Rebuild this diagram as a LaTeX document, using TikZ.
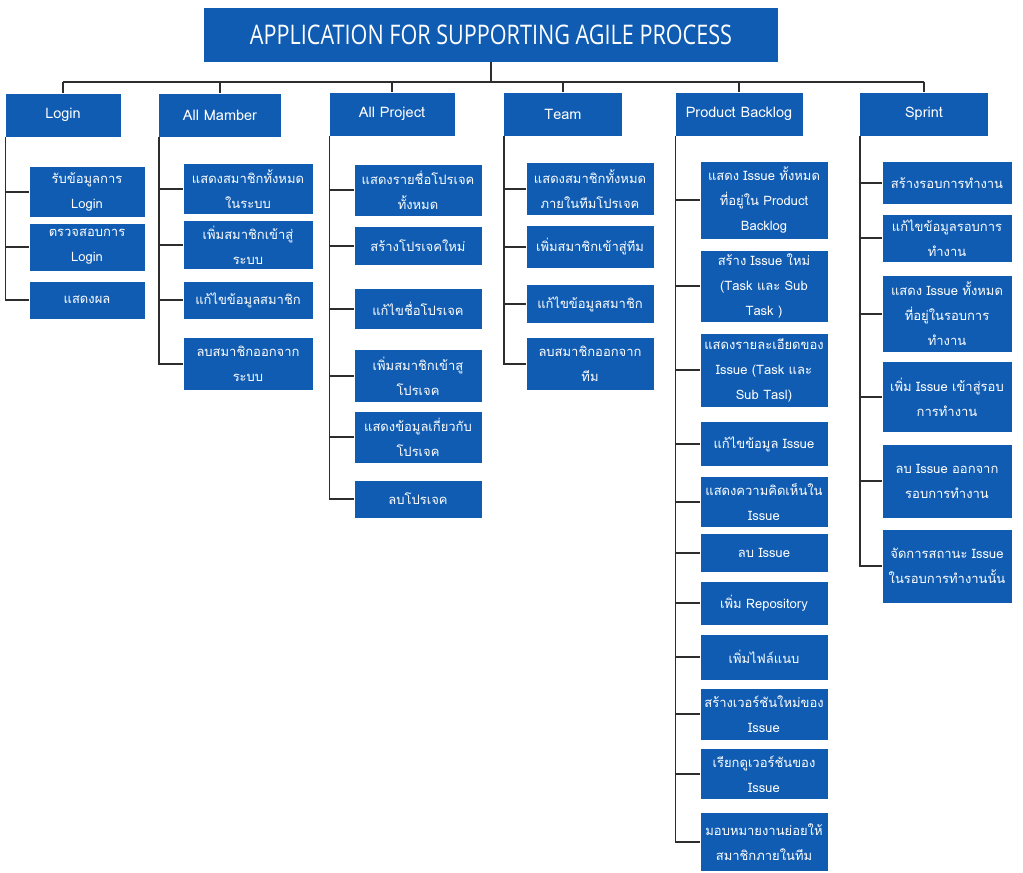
\documentclass[tikz,border=0pt]{standalone}
\usepackage{fontspec}
\setmainfont{Loma}[Script=Thai]
\newfontfamily\headfont{Open Sans}[FakeStretch=0.8]
\usepackage{tikz}
\definecolor{boxblue}{RGB}{16,92,178}
\definecolor{linegray}{RGB}{45,45,45}

\begin{document}
\begin{tikzpicture}[x=1pt,y=-1pt,
    box/.style={fill=boxblue,text=white,align=center,inner sep=0pt,
      font=\fontsize{13}{25}\selectfont},
    head/.style={box,minimum height=43pt,font=\fontsize{14.5}{25}\selectfont},
    item/.style={box,minimum width=127pt},
    link/.style={draw=linegray,line width=1.6pt}]
    \useasboundingbox (0,0) rectangle (1023,873);

    \node[box,minimum width=574pt,minimum height=54pt,
      font=\headfont\fontsize{27}{32}\selectfont] (app) at (491,35)
      {APPLICATION FOR SUPPORTING AGILE PROCESS};
    \coordinate (bus) at (0,82);

    \node[head,minimum width=115pt] (login) at (63,115) {Login};
    \node[head,minimum width=122pt] (member) at (220,115) {All Mamber};
    \node[head,minimum width=125pt] (project) at (392,114) {All Project};
    \node[head,minimum width=118pt] (team) at (563,114) {Team};
    \node[head,minimum width=127pt] (backlog) at (739,114) {Product Backlog};
    \node[head,minimum width=128pt] (sprint) at (924,114) {Sprint};

    \node[item,minimum width=115pt,minimum height=50pt] (login1) at (87,192) {รับข้อมูลการ\\Login};
    \node[item,minimum width=115pt,minimum height=47pt] (login2) at (87,247) {ตรวจสอบการ\\Login};
    \node[item,minimum width=115pt,minimum height=37pt] (login3) at (87,300) {แสดงผล};

    \node[item,minimum width=129pt,minimum height=50pt] (member1) at (248,189) {แสดงสมาชิกทั้งหมด\\ในระบบ};
    \node[item,minimum width=129pt,minimum height=48pt] (member2) at (248,245) {เพิ่มสมาชิกเข้าสู่\\ระบบ};
    \node[item,minimum width=129pt,minimum height=37pt] (member3) at (248,300) {แก้ไขข้อมูลสมาชิก};
    \node[item,minimum width=129pt,minimum height=52pt] (member4) at (248,364) {ลบสมาชิกออกจาก\\ระบบ};

    \node[item,minimum height=51pt] (project1) at (418,190) {แสดงรายชื่อโปรเจค\\ทั้งหมด};
    \node[item,minimum height=38pt] (project2) at (418,246) {สร้างโปรเจคใหม่};
    \node[item,minimum height=40pt] (project3) at (418,309) {แก้ไขชื่อโปรเจค};
    \node[item,minimum height=52pt] (project4) at (418,376) {เพิ่มสมาชิกเข้าสู\\โปรเจค};
    \node[item,minimum height=51pt] (project5) at (418,437) {แสดงข้อมูลเกี่ยวกับ\\โปรเจค};
    \node[item,minimum height=37pt] (project6) at (418,499) {ลบโปรเจค};

    \node[item,minimum height=52pt] (team1) at (590,189) {แสดงสมาชิกทั้งหมด\\ภายในทีมโปรเจค};
    \node[item,minimum height=42pt] (team2) at (590,247) {เพิ่มสมาชิกเข้าสู่ทีม};
    \node[item,minimum height=38pt] (team3) at (590,304) {แก้ไขข้อมูลสมาชิก};
    \node[item,minimum height=52pt] (team4) at (590,364) {ลบสมาชิกออกจาก\\ทีม};

    \node[item,minimum height=77pt] (backlog1) at (764,200) {แสดง Issue ทั้งหมด\\ที่อยู่ใน Product\\Backlog};
    \node[item,minimum height=71pt] (backlog2) at (764,286) {สร้าง Issue ใหม่\\(Task และ Sub\\Task )};
    \node[item,minimum height=73pt] (backlog3) at (764,370) {แสดงรายละเอียดของ\\Issue (Task และ\\Sub Tasl)};
    \node[item,minimum height=44pt] (backlog4) at (764,444) {แก้ไขข้อมูล Issue};
    \node[item,minimum height=50pt] (backlog5) at (764,502) {แสดงความคิดเห็นใน\\Issue};
    \node[item,minimum height=38pt] (backlog6) at (764,553) {ลบ Issue};
    \node[item,minimum height=43pt] (backlog7) at (764,603) {เพิ่ม Repository};
    \node[item,minimum height=45pt] (backlog8) at (764,657) {เพิ่มไฟล์แนบ};
    \node[item,minimum height=51pt] (backlog9) at (764,714) {สร้างเวอร์ชันใหม่ของ\\Issue};
    \node[item,minimum height=50pt] (backlog10) at (764,774) {เรียกดูเวอร์ชันของ\\Issue};
    \node[item,minimum height=58pt] (backlog11) at (764,842) {มอบหมายงานย่อยให้\\สมาชิกภายในทีม};

    \node[item,minimum width=129pt,minimum height=42pt] (sprint1) at (947,183) {สร้างรอบการทำงาน};
    \node[item,minimum width=129pt,minimum height=47pt] (sprint2) at (947,238) {แก้ไขข้อมูลรอบการ\\ทำงาน};
    \node[item,minimum width=129pt,minimum height=76pt] (sprint3) at (947,314) {แสดง Issue ทั้งหมด\\ที่อยู่ในรอบการ\\ทำงาน};
    \node[item,minimum width=129pt,minimum height=70pt] (sprint4) at (947,397) {เพิ่ม Issue เข้าสู่รอบ\\การทำงาน};
    \node[item,minimum width=129pt,minimum height=73pt] (sprint5) at (947,481) {ลบ Issue ออกจาก\\รอบการทำงาน};
    \node[item,minimum width=129pt,minimum height=73pt] (sprint6) at (947,566) {จัดการสถานะ Issue\\ในรอบการทำงานนั้น};

    \draw[link] (app.south) -- (app.south |- bus);
    \draw[link] (login.north |- bus) -- (sprint.north |- bus);
    \foreach \h in {login,member,project,team,backlog,sprint}
      \draw[link] (\h.north |- bus) -- (\h.north);

    \draw[link] (login.south west) |- (login3.west);
    \foreach \i in {1,2}
      \draw[link] (login.south west |- login\i.west) -- (login\i.west);
    \draw[link] (member.south west) |- (member4.west);
    \foreach \i in {1,...,3}
      \draw[link] (member.south west |- member\i.west) -- (member\i.west);
    \draw[link] (project.south west) |- (project6.west);
    \foreach \i in {1,...,5}
      \draw[link] (project.south west |- project\i.west) -- (project\i.west);
    \draw[link] (team.south west) |- (team4.west);
    \foreach \i in {1,...,3}
      \draw[link] (team.south west |- team\i.west) -- (team\i.west);
    \draw[link] (backlog.south west) |- (backlog11.west);
    \foreach \i in {1,...,10}
      \draw[link] (backlog.south west |- backlog\i.west) -- (backlog\i.west);
    \draw[link] (sprint.south west) |- (sprint6.west);
    \foreach \i in {1,...,5}
      \draw[link] (sprint.south west |- sprint\i.west) -- (sprint\i.west);
  \end{tikzpicture}
\end{document}
